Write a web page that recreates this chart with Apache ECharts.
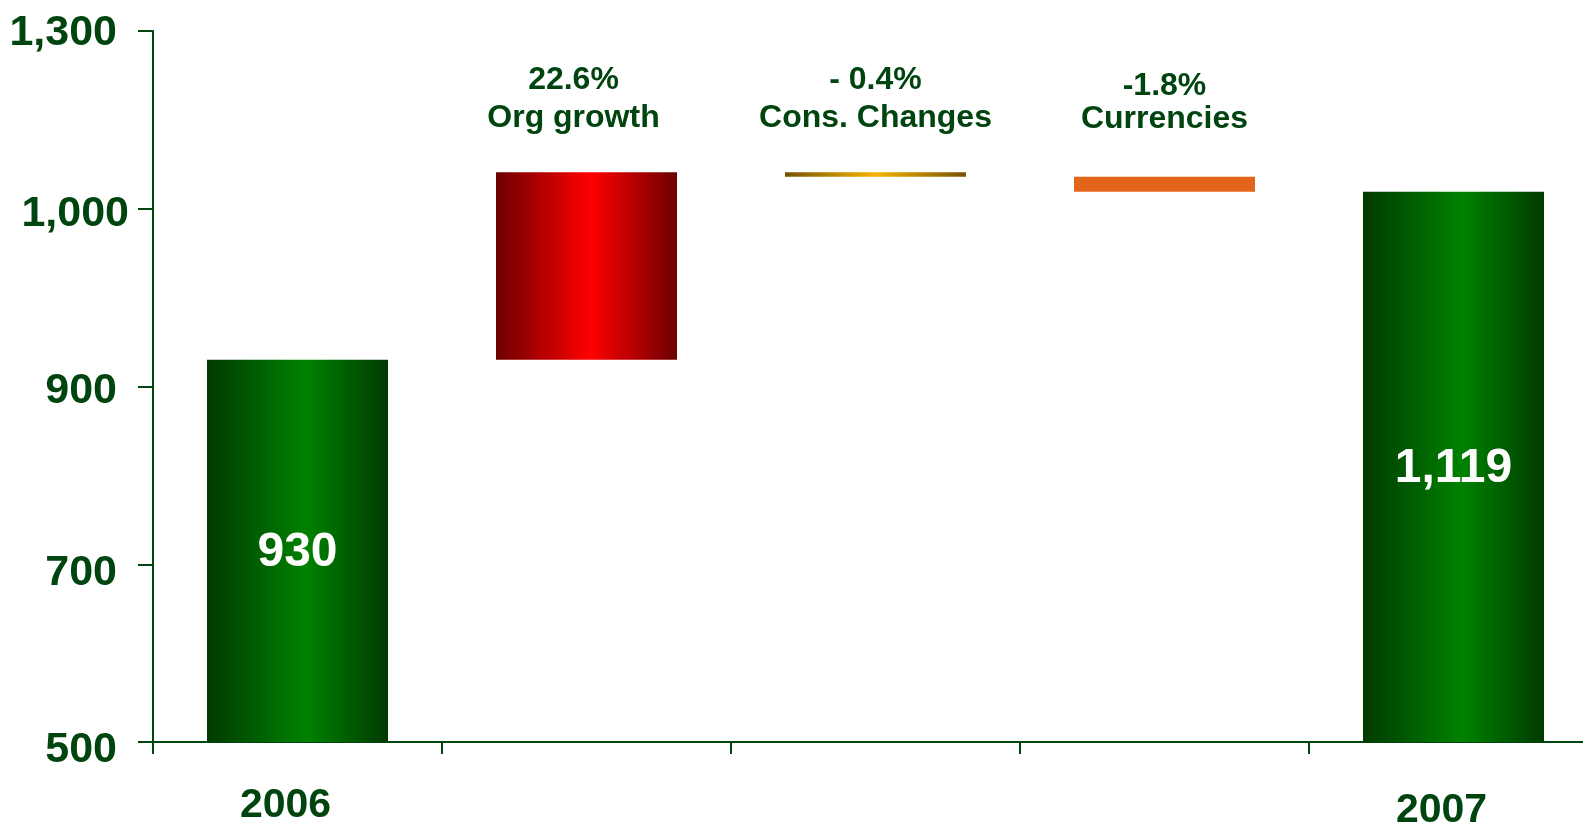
<!DOCTYPE html>
<html>
<head>
<meta charset="utf-8">
<script src="https://cdn.jsdelivr.net/npm/echarts@6/dist/echarts.min.js"></script>
<style>
  html, body { margin: 0; padding: 0; background: #ffffff; overflow: hidden; }
  #chart { width: 1610px; height: 825px; }
</style>
</head>
<body>
<div id="chart"></div>
<script>
// Sales bridge 2006 -> 2007
const categories = ['2006', 'Org growth', 'Cons. Changes', 'Currencies', '2007'];
const startValue = 930;
const changes = [211, -5, -17];          // Org growth, Cons. Changes, Currencies
const endValue = 1119;
const changePercents = ['22.6%', '- 0.4%', '-1.8%'];
const yearLabels = ['2006', '', '', '', '2007'];
const yTickValues = [500, 700, 900, 1100, 1300];
const yTickLabels = ['500', '700', '900', '1,000', '1,300'];

const ink = '#004410';
const font = '"Liberation Sans", Arial, sans-serif';

function hGrad(edge, mid, midPos) {
  return new echarts.graphic.LinearGradient(0, 0, 1, 0, [
    { offset: 0, color: edge },
    { offset: midPos, color: mid },
    { offset: 1, color: edge }
  ]);
}
const barFills = [
  hGrad('#003a00', '#008200', 0.55),
  hGrad('#6c0000', '#ff0000', 0.52),
  hGrad('#765200', '#f5b400', 0.5),
  '#e2651a',
  hGrad('#003a00', '#008200', 0.55)
];

// invisible base + visible step for each category
const baseData = [0];
const stepData = [startValue];
let level = startValue;
changes.forEach(function (c) {
  baseData.push(c >= 0 ? level : level + c);
  stepData.push(Math.abs(c));
  level += c;
});
baseData.push(0);
stepData.push(endValue);
const isTotal = [true, false, false, false, true];

const totalsText = { 0: startValue, 4: endValue };

function yStyle(pad) {
  return { fontFamily: font, fontWeight: 'bold', fontSize: 43, color: ink, padding: pad };
}
function noteStyle(lh) {
  return { fontFamily: font, fontWeight: 'bold', fontSize: 32, color: ink, lineHeight: lh, align: 'center' };
}

const chart = echarts.init(document.getElementById('chart'));
chart.setOption({
  animation: false,
  backgroundColor: '#ffffff',
  grid: { left: 153, top: 31, width: 1445, height: 711, containLabel: false, outerBoundsMode: 'none' },
  xAxis: [
    {
      type: 'category',
      position: 'bottom',
      data: categories,
      axisLine: { show: true, lineStyle: { color: ink, width: 2 } },
      axisTick: { show: true, length: 12, lineStyle: { color: ink, width: 2 } },
      axisLabel: {
        interval: 0,
        margin: 44,
        padding: [0, 24, 0, 0],
        formatter: function (v, i) {
          if (!yearLabels[i]) return '';
          return i === 4 ? '{late|' + yearLabels[i] + '}' : '{early|' + yearLabels[i] + '}';
        },
        rich: {
          early: { fontFamily: font, fontWeight: 'bold', fontSize: 41, color: ink, lineHeight: 40 },
          late: { fontFamily: font, fontWeight: 'bold', fontSize: 41, color: ink, lineHeight: 50 }
        }
      }
    },
    {
      type: 'category',
      position: 'top',
      data: categories.map(function (c, i) {
        return i === 1 ? { value: c, textStyle: { padding: [0, 26, 0, 0] } } : c;
      }),
      axisLine: { show: false },
      axisTick: { show: false },
      axisLabel: {
        inside: true,
        interval: 0,
        margin: 30,
        formatter: function (v, i) {
          if (i === 0 || i === 4) return '';
          const pct = changePercents[i - 1];
          if (i === 3) return '{p2|' + pct + '}\n{n2|' + v + '}';
          return '{p|' + pct + '}\n{n|' + v + '}';
        },
        rich: {
          p: noteStyle(38),
          n: noteStyle(38),
          p2: noteStyle(50),
          n2: noteStyle(16)
        }
      }
    }
  ],
  yAxis: {
    type: 'value',
    min: 500,
    max: 1300,
    interval: 200,
    splitLine: { show: false },
    axisLine: { show: true, lineStyle: { color: ink, width: 2 } },
    axisTick: { show: true, length: 15, lineStyle: { color: ink, width: 2 } },
    axisLabel: {
      margin: 24,
      formatter: function (v) {
        const k = yTickValues.indexOf(v);
        return '{t' + k + '|' + yTickLabels[k] + '}';
      },
      rich: {
        t0: yStyle([16, 12, 0, 0]),
        t1: yStyle([18, 12, 0, 0]),
        t2: yStyle([10, 12, 0, 0]),
        t3: yStyle([10, 0, 0, 0]),
        t4: yStyle([4, 12, 0, 0])
      }
    }
  },
  series: [
    {
      type: 'bar',
      stack: 'bridge',
      barWidth: 181,
      silent: true,
      itemStyle: { color: 'transparent' },
      data: baseData
    },
    {
      type: 'bar',
      stack: 'bridge',
      barWidth: 181,
      clip: true,
      data: stepData.map(function (v, i) {
        return {
          value: v,
          itemStyle: { color: barFills[i] },
          label: {
            show: isTotal[i],
            position: 'inside',
            offset: [0, 2],
            formatter: function () { return echarts.format.addCommas(totalsText[i]); },
            fontFamily: font,
            fontWeight: 'bold',
            fontSize: 48,
            color: '#ffffff'
          }
        };
      })
    }
  ]
});
</script>
</body>
</html>
